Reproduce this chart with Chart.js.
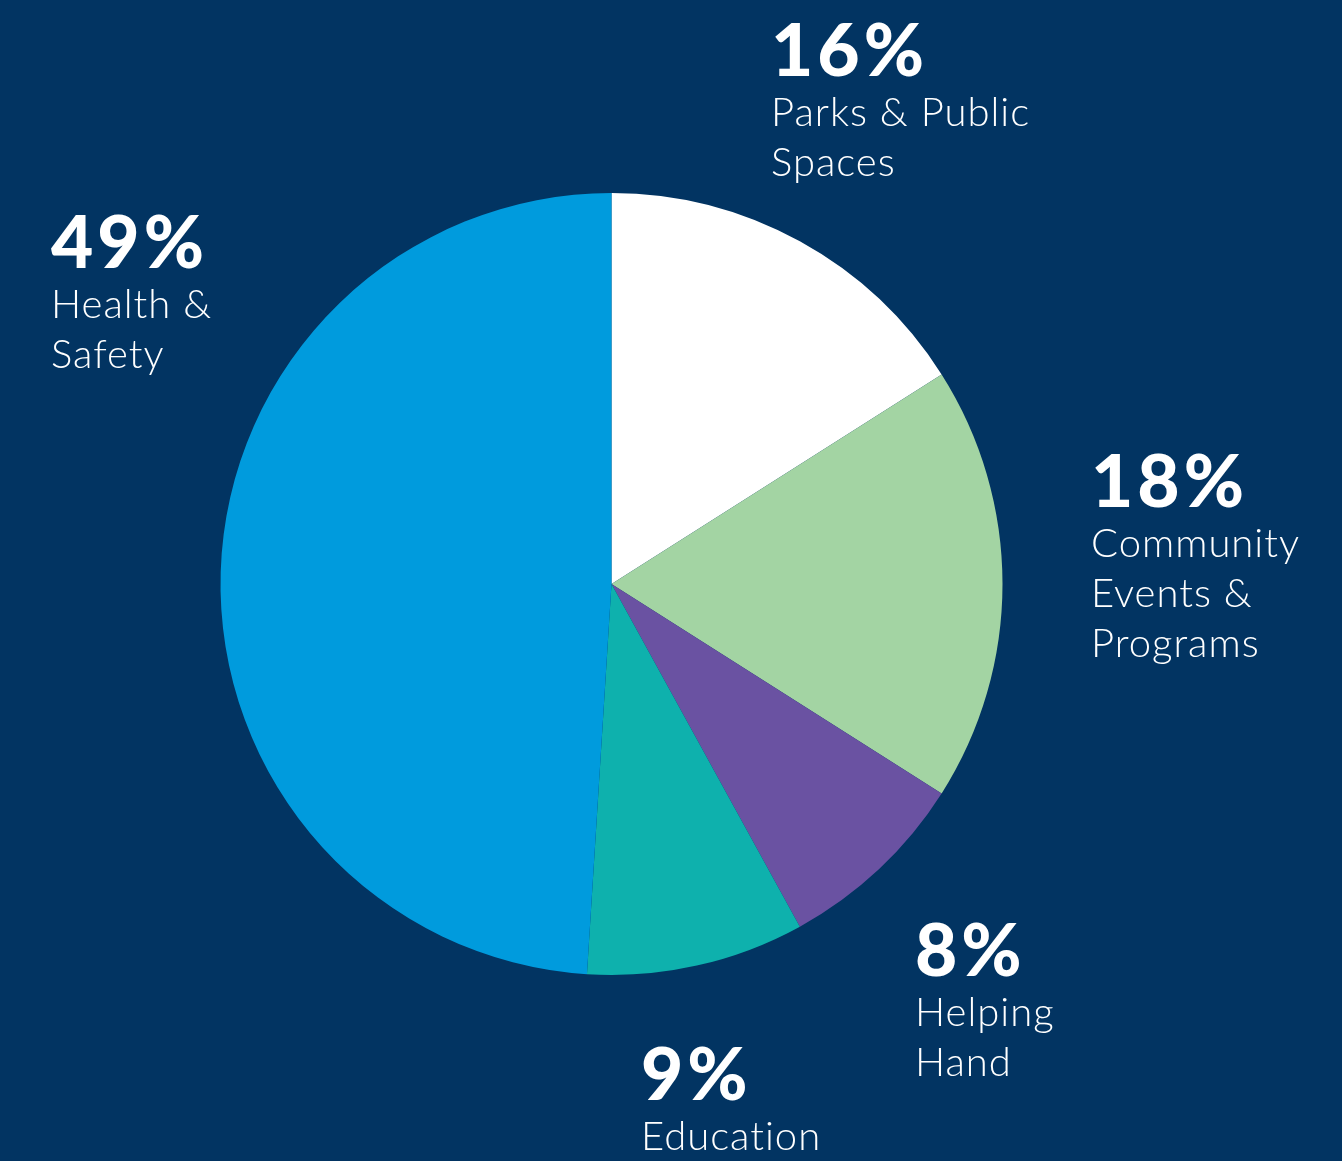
<!DOCTYPE html>
<html>
<head>
<meta charset="utf-8">
<script src="https://cdn.jsdelivr.net/npm/chart.js@4"></script>
<style>
  html, body { margin: 0; padding: 0; background: #023462; }
  #wrap { position: relative; width: 1342px; height: 1161px; }
</style>
</head>
<body>
<div id="wrap"><canvas id="pie" width="1342" height="1161"></canvas></div>
<script>
// slices, clockwise from 12 o'clock
const categories = ["Parks & Public Spaces", "Community Events & Programs", "Helping Hand", "Education", "Health & Safety"];
const shares = [16, 18, 8, 9, 49];
const percentLabels = ["16%", "18%", "8%", "9%", "49%"];
const labelLines = [
  ["Parks & Public", "Spaces"],
  ["Community", "Events &", "Programs"],
  ["Helping", "Hand"],
  ["Education"],
  ["Health &", "Safety"],
];
const sliceColors = ["#ffffff", "#a3d4a3", "#6a52a2", "#0eb1ad", "#009bdd"];

// where each label block sits (left x, baseline of the percent)
const labelPos = [
  { x: 771, y: 76 },
  { x: 1091, y: 507 },
  { x: 915, y: 976 },
  { x: 641, y: 1100 },
  { x: 51, y: 268 },
];

const outsideLabels = {
  id: "outsideLabels",
  afterDraw(chart) {
    const ctx = chart.ctx;
    ctx.save();
    ctx.fillStyle = "#ffffff";
    ctx.textAlign = "left";
    ctx.textBaseline = "alphabetic";
    labelPos.forEach((p, i) => {
      ctx.font = "900 73px Lato";
      ctx.letterSpacing = "4px";
      ctx.fillText(percentLabels[i], p.x, p.y);
      ctx.font = "300 40px Lato";
      ctx.letterSpacing = "1px";
      labelLines[i].forEach((line, j) => {
        ctx.fillText(line, p.x, p.y + 50 + j * 50);
      });
    });
    ctx.restore();
  },
};

const canvas = document.getElementById("pie");
canvas.chart = new Chart(canvas.getContext("2d"), {
  type: "pie",
  data: {
    labels: categories,
    datasets: [
      {
        data: shares,
        backgroundColor: sliceColors,
        borderWidth: 0,
        hoverOffset: 0,
      },
    ],
  },
  options: {
    responsive: false,
    animation: false,
    layout: {
      padding: { left: 220, right: 339, top: 193, bottom: 186 },
    },
    plugins: {
      legend: { display: false },
      tooltip: { enabled: false },
    },
  },
  plugins: [outsideLabels],
});
</script>
</body>
</html>
